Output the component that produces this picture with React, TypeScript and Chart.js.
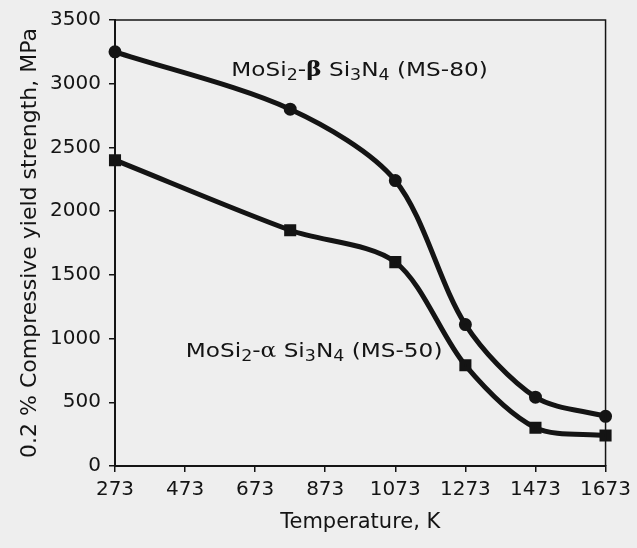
import { useEffect, useRef } from "react";
import { Chart, registerables } from "chart.js";

Chart.register(...registerables);

const temperatures = [273, 773, 1073, 1273, 1473, 1673];
const ms80Strength = [3250, 2800, 2240, 1110, 540, 390];
const ms50Strength = [2400, 1850, 1600, 790, 300, 240];
const xTickValues = [273, 473, 673, 873, 1073, 1273, 1473, 1673];
const yTickValues = [0, 500, 1000, 1500, 2000, 2500, 3000, 3500];

const xTitle = "Temperature, K";
const yTitle = "0.2 % Compressive yield strength, MPa";

type Seg = { t: string; sub?: boolean; serif?: boolean; bold?: boolean };
const labelMS80: Seg[] = [
  { t: "MoSi" }, { t: "2", sub: true }, { t: "-" }, { t: "β", serif: true, bold: true },
  { t: " Si" }, { t: "3", sub: true }, { t: "N" }, { t: "4", sub: true }, { t: " (MS-80)" },
];
const labelMS50: Seg[] = [
  { t: "MoSi" }, { t: "2", sub: true }, { t: "-" }, { t: "α", serif: true },
  { t: " Si" }, { t: "3", sub: true }, { t: "N" }, { t: "4", sub: true }, { t: " (MS-50)" },
];

const FONT = "'DejaVu Sans', sans-serif";
const INK = "#141414";
const BG = "#eeeeee";
const TEXT_STRETCH = 1.16;

function drawRich(ctx: CanvasRenderingContext2D, segs: Seg[], x: number, y: number) {
  ctx.save();
  ctx.translate(x, y);
  ctx.scale(TEXT_STRETCH, 1);
  let cx = 0;
  for (const s of segs) {
    const size = s.sub ? 15 : 20;
    const fam = s.serif ? "'DejaVu Serif', serif" : FONT;
    ctx.font = `${s.bold ? "bold " : ""}${size}px ${fam}`;
    ctx.fillText(s.t, cx, s.sub ? 4 : 0);
    cx += ctx.measureText(s.t).width;
  }
  ctx.restore();
}

const annotationPlugin = {
  id: "annotations",
  afterDatasetsDraw(chart: any) {
    const { ctx, scales, chartArea } = chart;
    const x = scales.x, y = scales.y;
    ctx.save();
    ctx.strokeStyle = INK;
    ctx.lineWidth = 1.5;
    ctx.beginPath();
    ctx.moveTo(chartArea.left, chartArea.top);
    ctx.lineTo(chartArea.right, chartArea.top);
    ctx.lineTo(chartArea.right, chartArea.bottom);
    ctx.stroke();
    ctx.fillStyle = INK;
    ctx.textBaseline = "alphabetic";
    ctx.textAlign = "left";
    drawRich(ctx, labelMS80, x.getPixelForValue(605), y.getPixelForValue(3060));
    drawRich(ctx, labelMS50, x.getPixelForValue(475), y.getPixelForValue(855));
    ctx.restore();
  },
};

const bgPlugin = {
  id: "bg",
  beforeDraw(chart: any) {
    const { ctx, width, height } = chart;
    ctx.save();
    ctx.fillStyle = BG;
    ctx.fillRect(0, 0, width, height);
    ctx.restore();
  },
};

export default function App() {
  const ref = useRef<HTMLCanvasElement>(null);
  useEffect(() => {
    document.body.style.margin = "0";
    document.body.style.background = BG;
    const chart = new Chart(ref.current!, {
      type: "line",
      data: {
        datasets: [
          {
            label: "MoSi2-β Si3N4 (MS-80)",
            data: temperatures.map((t, i) => ({ x: t, y: ms80Strength[i] })),
            borderColor: INK,
            backgroundColor: INK,
            borderWidth: 5,
            pointStyle: "circle",
            pointRadius: 4,
            tension: 0.3,
            clip: false,
          },
          {
            label: "MoSi2-α Si3N4 (MS-50)",
            data: temperatures.map((t, i) => ({ x: t, y: ms50Strength[i] })),
            borderColor: INK,
            backgroundColor: INK,
            borderWidth: 5,
            pointStyle: "rect",
            pointRadius: 5,
            tension: 0.3,
            clip: false,
          },
        ],
      },
      options: {
        animation: false,
        responsive: false,
        maintainAspectRatio: false,
        layout: { padding: { top: 20, right: 29, left: 0, bottom: 0 } },
        plugins: { legend: { display: false }, tooltip: { enabled: false } },
        scales: {
          x: {
            type: "linear",
            min: 273,
            max: 1673,
            afterBuildTicks: (s: any) => {
              s.ticks = xTickValues.map((v) => ({ value: v }));
            },
            afterFit: (s: any) => {
              s.height = 82;
            },
            grid: { display: true, drawOnChartArea: false, tickLength: 6, color: INK, lineWidth: 1.5 },
            border: { display: true, color: INK, width: 2 },
            ticks: {
              color: INK, font: { family: FONT, size: 20 }, padding: 6, maxRotation: 0, autoSkip: false,
              callback: (v: any) => String(v),
            },
            title: { display: true, text: xTitle, color: INK, font: { family: FONT, size: 21 }, padding: { top: 4, bottom: 13 } },
          },
          y: {
            type: "linear",
            min: 0,
            max: 3500,
            afterBuildTicks: (s: any) => {
              s.ticks = yTickValues.map((v) => ({ value: v }));
            },
            afterFit: (s: any) => {
              s.width = 115;
            },
            grid: { display: true, drawOnChartArea: false, tickLength: 6, color: INK, lineWidth: 1.5 },
            border: { display: true, color: INK, width: 2 },
            ticks: {
              color: INK, font: { family: FONT, size: 20 }, padding: 8, autoSkip: false,
              callback: (v: any) => String(v),
            },
            title: { display: true, text: yTitle, color: INK, font: { family: FONT, size: 22 }, padding: { top: 17, bottom: 4 } },
          },
        },
      },
      plugins: [bgPlugin, annotationPlugin],
    } as any);
    return () => chart.destroy();
  }, []);
  return (
    <div style={{ width: 637, height: 548, background: BG }}>
      <canvas ref={ref} width={637} height={548} style={{ display: "block" }} />
    </div>
  );
}
